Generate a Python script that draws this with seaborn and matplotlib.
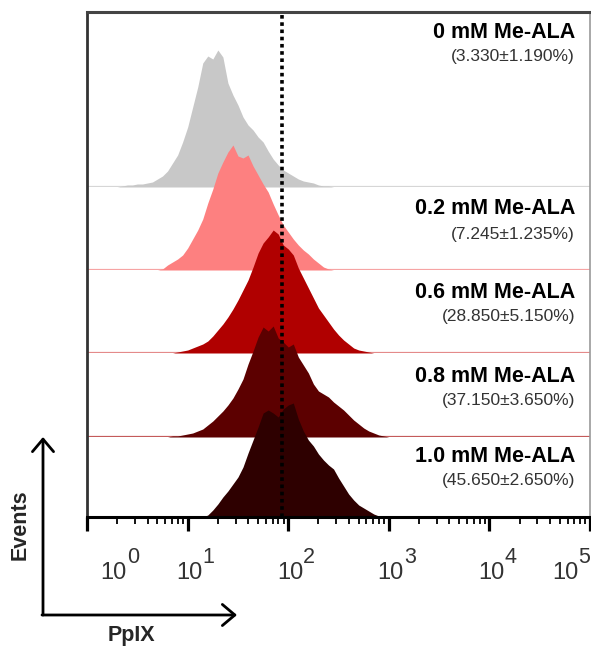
import numpy as np
import pandas as pd
import matplotlib.pyplot as plt
import seaborn as sns
from matplotlib.ticker import LogLocator, NullFormatter

sns.set_theme(style="white")
plt.rcParams['font.family'] = ['Liberation Sans', 'DejaVu Sans']

# histogram bin centres, in decades of PpIX fluorescence
log_bins = np.round(np.arange(0.30, 3.001, 0.05), 2)

groups = ['0 mM Me-ALA', '0.2 mM Me-ALA', '0.6 mM Me-ALA', '0.8 mM Me-ALA', '1.0 mM Me-ALA']
positive = ['(3.330±1.190%)', '(7.245±1.235%)', '(28.850±5.150%)',
            '(37.150±3.650%)', '(45.650±2.650%)']
gate = 86
exponents = [0, 1, 2, 3, 4, 5]

# events per bin (0.30 ... 3.00 decades)
events_00 = [0, 1, 2, 2, 3, 3, 4, 5, 8, 11,
             16, 24, 32, 45, 60, 80, 100, 124, 131, 128,
             137, 130, 104, 92, 82, 70, 62, 57, 50, 45,
             36, 28, 22, 17, 14, 11, 8, 6, 5, 4,
             2, 1, 1, 0, 0, 0, 0, 0, 0, 0,
             0, 0, 0, 0, 0]
events_02 = [0, 0, 0, 0, 0, 0, 0, 0, 0, 1,
             5, 8, 11, 15, 22, 31, 40, 51, 67, 81,
             97, 108, 118, 125, 114, 112, 115, 104, 95, 86,
             78, 66, 55, 45, 38, 31, 25, 20, 16, 11,
             7, 3, 1, 0, 0, 0, 0, 0, 0, 0,
             0, 0, 0, 0, 0]
events_06 = [0, 0, 0, 0, 0, 0, 0, 0, 0, 0,
             0, 0, 1, 2, 3, 5, 7, 9, 12, 17,
             23, 29, 36, 44, 53, 63, 73, 86, 100, 110,
             116, 123, 119, 108, 104, 98, 85, 75, 65, 55,
             45, 38, 31, 24, 18, 13, 9, 5, 3, 2,
             1, 0, 0, 0, 0]
events_08 = [0, 0, 0, 0, 0, 0, 0, 0, 0, 0,
             0, 1, 1, 2, 3, 4, 6, 8, 12, 16,
             21, 26, 32, 39, 48, 58, 73, 86, 100, 110,
             106, 111, 99, 95, 90, 93, 80, 72, 64, 53,
             46, 43, 40, 35, 31, 27, 22, 17, 13, 9,
             6, 4, 2, 1, 0]
events_10 = [0, 0, 0, 0, 0, 0, 0, 0, 0, 0,
             0, 0, 0, 0, 0, 0, 0, 0, 2, 7,
             13, 20, 26, 33, 40, 50, 64, 77, 90, 104,
             107, 104, 100, 108, 112, 114, 98, 86, 77, 71,
             63, 57, 52, 48, 39, 31, 23, 17, 12, 9,
             6, 3, 1, 0, 0]
series = [events_00, events_02, events_06, events_08, events_10]

df = pd.concat([pd.DataFrame({'PpIX': 10.0 ** log_bins, 'Events': ev, 'group': g})
                for g, ev in zip(groups, series)], ignore_index=True)

fill_colors = ['#c8c8c8', '#fd8080', '#b00000', '#5c0000', '#2e0000']
base_colors = ['#d6d6d6', '#f6a4a4', '#e48a8a', '#c45a5a', None]

W, H = 591, 649
fig = plt.figure(figsize=(W / 100, H / 100), dpi=100)


def px_axes(left, top, right, bottom):
    return fig.add_axes([left / W, 1 - bottom / H, (right - left) / W, (bottom - top) / H])


L, R, T, B = 87, 590, 12, 517
baselines = [187, 270, 353, 437, 517]
tops = [T, 120, 203, 287, 367]

for i, g in enumerate(groups):
    ax = px_axes(L, tops[i], R, baselines[i])
    sub = df[df['group'] == g]
    sns.histplot(data=sub, x='PpIX', weights='Events', binwidth=0.05, binrange=(0.275, 3.025),
                 log_scale=True, element='poly', fill=True, color=fill_colors[i],
                 alpha=1, linewidth=0, ax=ax)
    if base_colors[i]:
        ax.axhline(0, color=base_colors[i], lw=1.6, zorder=0)
    ax.set_xlim(1, 1e5)
    ax.set_ylim(0, baselines[i] - tops[i])
    ax.set_axis_off()
    if i == 0:
        y1, y2 = 155, 130
    else:
        y1, y2 = 61, 36
    tr = ax.get_yaxis_transform()
    ax.text(0.970, y1, g, transform=tr, ha='right', va='center',
            fontsize=15.5, fontweight='bold', color='black')
    ax.text(0.970, y2, positive[i], transform=tr, ha='right', va='center',
            fontsize=12.5, color='#333333')

# frame with the PpIX axis
fr = px_axes(L, T, R, B)
fr.patch.set_visible(False)
fr.set_xscale('log')
fr.set_xlim(1, 1e5)
fr.set_ylim(0, 1)
fr.axvline(gate, color='black', lw=2.6, linestyle=(0, (1, 1)))
fr.set_yticks([])
fr.set_xticks([10.0 ** e for e in exponents])
fr.set_xticklabels([])
fr.xaxis.set_minor_locator(LogLocator(base=10, subs=np.arange(2, 10), numticks=12))
fr.xaxis.set_minor_formatter(NullFormatter())
fr.tick_params(axis='x', which='major', direction='out', length=10, width=2.3,
               color='black', bottom=True)
fr.tick_params(axis='x', which='minor', direction='out', length=5, width=1.3,
               color='black', bottom=True)
for side, c, w in [('left', '#333333', 2.0), ('top', '#444444', 2.2),
                   ('right', '#999999', 1.2), ('bottom', 'black', 2.2)]:
    fr.spines[side].set_visible(True)
    fr.spines[side].set_color(c)
    fr.spines[side].set_linewidth(w)

lab_dx = [35, 10, 10, 10, 10, -17]
for e, dx in zip(exponents, lab_dx):
    fr.annotate('10', xy=(10.0 ** e, 0), xycoords=('data', 'axes fraction'),
                xytext=(dx + 5, -62), textcoords='offset pixels', ha='right', va='baseline',
                fontsize=17, color='#333333')
    fr.annotate(str(e), xy=(10.0 ** e, 0), xycoords=('data', 'axes fraction'),
                xytext=(dx + 5, -46), textcoords='offset pixels', ha='left', va='baseline',
                fontsize=15.5, color='#333333')

# axis arrows
arrow = dict(arrowstyle='->, head_length=0.45, head_width=0.38', lw=2, color='black',
             mutation_scale=20, shrinkA=0, shrinkB=0)
fig.add_artist(plt.Annotation('', xy=(43, H - 437), xytext=(43, H - 615),
                              xycoords='figure pixels', textcoords='figure pixels',
                              arrowprops=arrow))
fig.add_artist(plt.Annotation('', xy=(237, H - 615), xytext=(42, H - 615),
                              xycoords='figure pixels', textcoords='figure pixels',
                              arrowprops=arrow))
fig.text(20 / W, 1 - 525 / H, 'Events', rotation=90, ha='center', va='center',
         fontsize=15.5, fontweight='bold')
fig.text(131 / W, 1 - 635 / H, 'PpIX', ha='center', va='center',
         fontsize=15.5, fontweight='bold')

fig.savefig('out.png', dpi=100, facecolor='white')
